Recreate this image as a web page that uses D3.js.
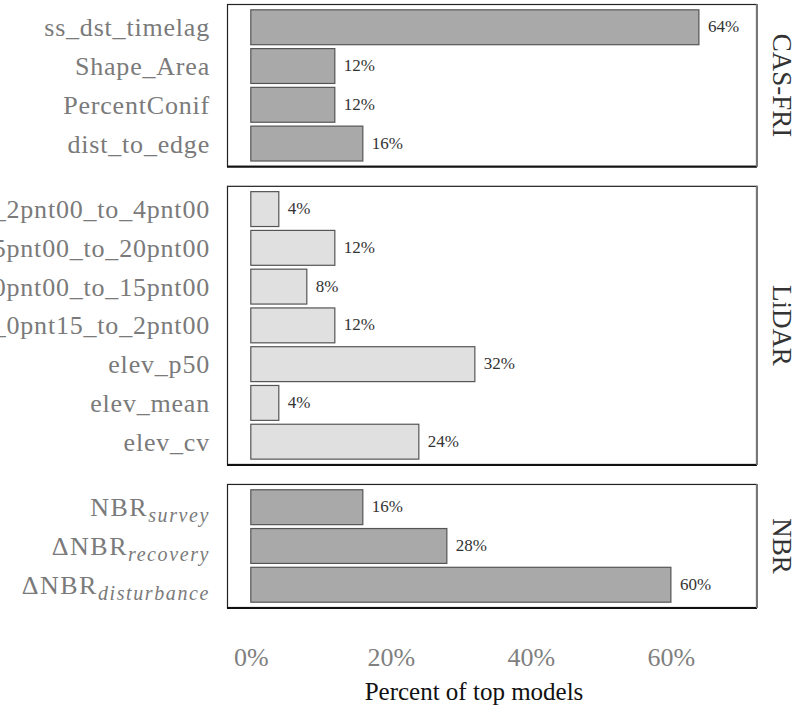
<!DOCTYPE html>
<html>
<head>
<meta charset="utf-8">
<script src="https://cdn.jsdelivr.net/npm/d3@7"></script>
<style>
  html, body { margin: 0; padding: 0; background: #ffffff; }
  svg { display: block; }
  text { font-family: "Liberation Serif", "Times New Roman", serif; }
</style>
</head>
<body>
<svg id="chart" width="799" height="710"></svg>
<script>
// Variable groups (facets), top to bottom
const groups = ["CAS-FRI", "LiDAR", "NBR"];

// Variables within each group, listed top to bottom
const casVars = ["ss_dst_timelag", "Shape_Area", "PercentConif", "dist_to_edge"];
const casVals = [64, 12, 12, 16];

const lidarVars = [
  "elev_prop_2pnt00_to_4pnt00",
  "elev_prop_15pnt00_to_20pnt00",
  "elev_prop_10pnt00_to_15pnt00",
  "elev_prop_0pnt15_to_2pnt00",
  "elev_p50",
  "elev_mean",
  "elev_cv"
];
const lidarVals = [4, 12, 8, 12, 32, 4, 24];

// NBR variables: [main text, prefix, subscript]
const nbrVars = [
  ["NBR", "", "survey"],
  ["NBR", "\u0394", "recovery"],
  ["NBR", "\u0394", "disturbance"]
];
const nbrVals = [16, 28, 60];

const xTicks = [0, 20, 40, 60];
const xTitle = "Percent of top models";

const groupFill = { "CAS-FRI": "#a9a9a9", "LiDAR": "#e0e0e0", "NBR": "#a9a9a9" };

const panels = [
  { name: groups[0], labels: casVars, values: casVals },
  { name: groups[1], labels: lidarVars, values: lidarVals },
  { name: groups[2], labels: nbrVars, values: nbrVals }
];

const svg = d3.select("#chart");
const plotLeft = 227, plotRight = 757, plotTop = 4, plotBottom = 608, gap = 19;

// Panel heights proportional to number of categories (+0.6 padding each side)
const unitsTotal = d3.sum(panels, p => p.labels.length + 0.2);
const unit = (plotBottom - plotTop - gap * (panels.length - 1)) / unitsTotal;

const x = d3.scaleLinear().domain([-3.4, 72.3]).range([plotLeft, plotRight]);

let yCursor = plotTop;
panels.forEach(p => {
  const h = unit * (p.labels.length + 0.2);
  p.y0 = yCursor; p.h = h;
  yCursor += h + gap;
});

const fmtLabel = d => Math.round(d) + "%";

panels.forEach(p => {
  const g = svg.append("g");
  const idx = d3.range(p.labels.length);
  const y = d3.scaleBand()
    .domain(idx)
    .range([p.y0 + unit * 0.1, p.y0 + p.h - unit * 0.1])
    .paddingInner(0.1).paddingOuter(0.05);

  // panel frame
  g.append("rect")
    .attr("x", plotLeft + 0.5).attr("y", p.y0 + 0.5)
    .attr("width", plotRight - plotLeft - 1).attr("height", p.h - 1)
    .attr("fill", "#ffffff").attr("stroke", "#222").attr("stroke-width", 1.2);
  g.append("line")
    .attr("x1", plotLeft).attr("x2", plotRight).attr("y1", p.y0 + p.h).attr("y2", p.y0 + p.h)
    .attr("stroke", "#111").attr("stroke-width", 2);
  g.append("line")
    .attr("x1", plotRight).attr("x2", plotRight).attr("y1", p.y0).attr("y2", p.y0 + p.h)
    .attr("stroke", "#777").attr("stroke-width", 2);

  // bars
  g.selectAll("rect.bar").data(idx).join("rect")
    .attr("class", "bar")
    .attr("x", x(0))
    .attr("y", i => y(i))
    .attr("width", i => x(p.values[i]) - x(0))
    .attr("height", y.bandwidth())
    .attr("fill", groupFill[p.name])
    .attr("stroke", "#555")
    .attr("stroke-width", 1.2);

  // value labels
  g.selectAll("text.val").data(idx).join("text")
    .attr("class", "val")
    .attr("x", i => x(p.values[i]) + 9)
    .attr("y", i => y(i) + y.bandwidth() / 2 + 5)
    .attr("font-size", 17)
    .attr("fill", "#333")
    .text(i => fmtLabel(p.values[i]));

  // category labels
  const lab = g.selectAll("text.cat").data(idx).join("text")
    .attr("class", "cat")
    .attr("text-anchor", "end")
    .attr("x", 210)
    .attr("y", i => y(i) + y.bandwidth() / 2 + 9)
    .attr("font-size", 26)
    .attr("letter-spacing", 0.8)
    .attr("fill", "#7a7a7a");
  lab.each(function(i) {
    const t = d3.select(this);
    const l = p.labels[i];
    if (Array.isArray(l)) {
      t.append("tspan").attr("letter-spacing", 1.5).text(l[1] + l[0]);
      t.append("tspan")
        .attr("font-style", "italic")
        .attr("font-size", 20)
        .attr("dy", 6)
        .attr("letter-spacing", 1.6)
        .text(l[2]);
    } else {
      t.text(l);
    }
  });

  // strip label
  const cy = p.y0 + p.h / 2;
  g.append("text")
    .attr("transform", `translate(773,${cy}) rotate(90)`)
    .attr("text-anchor", "middle")
    .attr("font-size", 27)
    .attr("fill", "#333")
    .text(p.name);
});

// bottom axis labels
const axis = d3.axisBottom(x).tickValues(xTicks).tickFormat(d => d + "%").tickSize(0).tickPadding(0);
const ax = svg.append("g").attr("transform", `translate(0,${plotBottom + 58})`).call(axis);
ax.select(".domain").remove();
ax.selectAll("text")
  .attr("font-size", 26)
  .attr("fill", "#7f7f7f")
  .attr("dy", 0)
  .style("font-family", "'Liberation Serif', serif");

svg.append("text")
  .attr("x", (plotLeft + plotRight) / 2 - 18)
  .attr("y", 700)
  .attr("text-anchor", "middle")
  .attr("font-size", 25)
  .attr("fill", "#111")
  .text(xTitle);
</script>
</body>
</html>
